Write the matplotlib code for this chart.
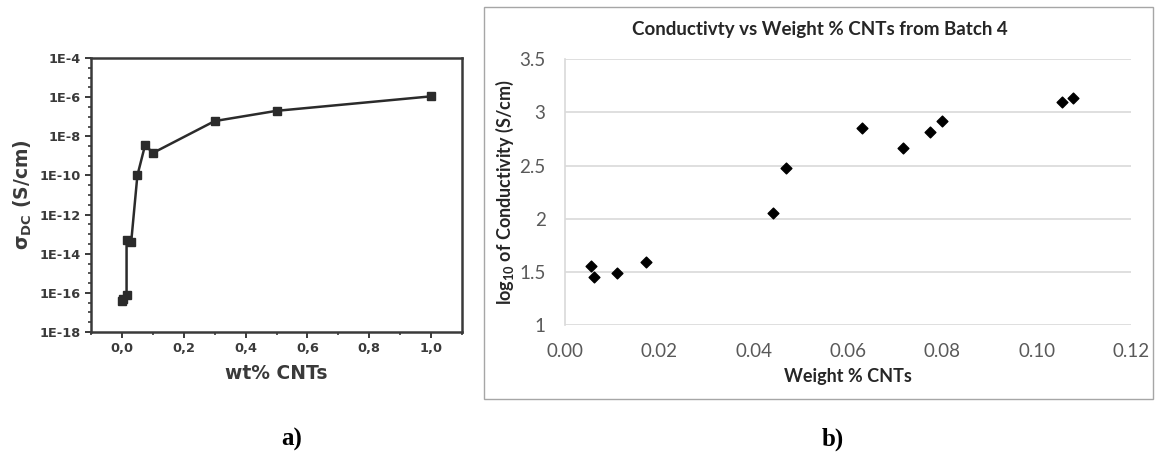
import matplotlib
matplotlib.use("Agg")
import matplotlib.pyplot as plt
from matplotlib.patches import Rectangle
from matplotlib.ticker import FixedLocator, NullFormatter
import numpy as np

# ---- Panel a) data ----
a_wt = [0.0, 0.005, 0.015, 0.015, 0.03, 0.05, 0.075, 0.10, 0.30, 0.50, 1.00]
a_sigma = [4e-17, 5e-17, 8e-17, 5e-14, 4e-14, 1e-10, 3.6e-9, 1.4e-9, 6e-8, 2e-7, 1.1e-6]
a_yticks = [1e-18, 1e-16, 1e-14, 1e-12, 1e-10, 1e-8, 1e-6, 1e-4]
a_yticklabels = ["1E-18", "1E-16", "1E-14", "1E-12", "1E-10", "1E-8", "1E-6", "1E-4"]
a_xticks = [0.0, 0.2, 0.4, 0.6, 0.8, 1.0]
a_xticklabels = ["0,0", "0,2", "0,4", "0,6", "0,8", "1,0"]

# ---- Panel b) data ----
b_wt = [0.0056, 0.0062, 0.0110, 0.0172, 0.0442, 0.0469, 0.0629, 0.0717, 0.0774, 0.0799, 0.1053, 0.1078]
b_logsigma = [1.556, 1.455, 1.493, 1.590, 2.054, 2.480, 2.851, 2.666, 2.816, 2.917, 3.101, 3.139]
b_yticks = [1, 1.5, 2, 2.5, 3, 3.5]
b_yticklabels = ["1", "1.5", "2", "2.5", "3", "3.5"]
b_xticks = [0.00, 0.02, 0.04, 0.06, 0.08, 0.10, 0.12]
b_xticklabels = ["0.00", "0.02", "0.04", "0.06", "0.08", "0.10", "0.12"]

fig = plt.figure(figsize=(11.55, 4.69), dpi=100)

# ================= Panel a =================
ink = "#2b2b2b"
ax1 = fig.add_axes([0.0788, 0.2921, 0.3212, 0.5842])
ax1.plot(a_wt, a_sigma, color=ink, lw=1.8, marker="s", ms=6, mfc=ink, mec=ink)
ax1.set_yscale("log")
ax1.set_ylim(1e-18, 1e-4)
ax1.set_xlim(-0.1, 1.1)
ax1.yaxis.set_major_locator(FixedLocator(a_yticks))
ax1.set_yticklabels(a_yticklabels)
minor_y = [10 ** (e / 2) for e in range(-36, -7) if e % 4 != 0]
ax1.yaxis.set_minor_locator(FixedLocator(minor_y))
ax1.yaxis.set_minor_formatter(NullFormatter())
ax1.set_xticks(a_xticks)
ax1.set_xticklabels(a_xticklabels)
ax1.set_xticks([-0.1, 0.1, 0.3, 0.5, 0.7, 0.9, 1.1], minor=True)
for s in ax1.spines.values():
    s.set_linewidth(1.8)
    s.set_color("#3a3a3a")
ax1.tick_params(axis="both", which="major", direction="out", length=4, width=1.4,
                color="#3a3a3a", labelsize=9.3, labelcolor="#3a3a3a", top=False, right=False)
ax1.tick_params(axis="both", which="minor", direction="out", length=2.5, width=1.2,
                color="#3a3a3a", top=False, right=False)
for lab in ax1.get_xticklabels() + ax1.get_yticklabels():
    lab.set_fontweight("bold")
ax1.set_xlabel("wt% CNTs", fontsize=13.5, fontweight="bold", color="#3a3a3a", labelpad=6)
ax1.set_ylabel(r"σ$_{\mathregular{DC}}$ (S/cm)", fontsize=13.5, fontweight="bold",
               color="#3a3a3a", labelpad=4)

# ================= Panel b =================
fig.patches.append(Rectangle((0.419, 0.1493), 0.5797, 0.8358, transform=fig.transFigure,
                             fill=False, edgecolor="#a6a6a6", lw=1.0))

ax2 = fig.add_axes([0.4892, 0.307, 0.49, 0.5666])
ax2.scatter(b_wt, b_logsigma, marker="D", s=30, color="black", zorder=3)
ax2.set_xlim(0, 0.12)
ax2.set_ylim(1, 3.5)
ax2.set_yticks(b_yticks)
ax2.set_yticklabels(b_yticklabels)
ax2.set_xticks(b_xticks)
ax2.set_xticklabels(b_xticklabels)
ax2.grid(axis="y", color="#d9d9d9", lw=1.2)
ax2.set_axisbelow(True)
for k in ["top", "right", "bottom"]:
    ax2.spines[k].set_visible(False)
ax2.spines["left"].set_color("#d9d9d9")
ax2.spines["left"].set_linewidth(1.2)
ax2.tick_params(axis="both", length=0, labelsize=13.5, labelcolor="#595959", labelfontfamily="Lato")
ax2.tick_params(axis="x", pad=13)
ax2.tick_params(axis="y", pad=14)
ax2.set_xlabel("Weight % CNTs", fontsize=13, fontweight="bold", family="Lato", color="#262626", labelpad=6)
ax2.set_ylabel(r"log$_{\mathregular{10}}$ of Conductivity (S/cm)", fontsize=13, fontweight="bold",
               family="Lato", color="#262626", labelpad=2)
fig.text(0.71, 0.938, "Conductivty vs Weight % CNTs from Batch 4", ha="center", va="center",
         fontsize=13.5, fontweight="bold", family="Lato", color="#262626")

# ---- panel letters ----
fig.text(0.2528, 0.064, "a)", ha="center", va="center", fontsize=18, fontweight="bold",
         family="Liberation Serif")
fig.text(0.7212, 0.064, "b)", ha="center", va="center", fontsize=18, fontweight="bold",
         family="Liberation Serif")

fig.savefig("out.png", dpi=100)
